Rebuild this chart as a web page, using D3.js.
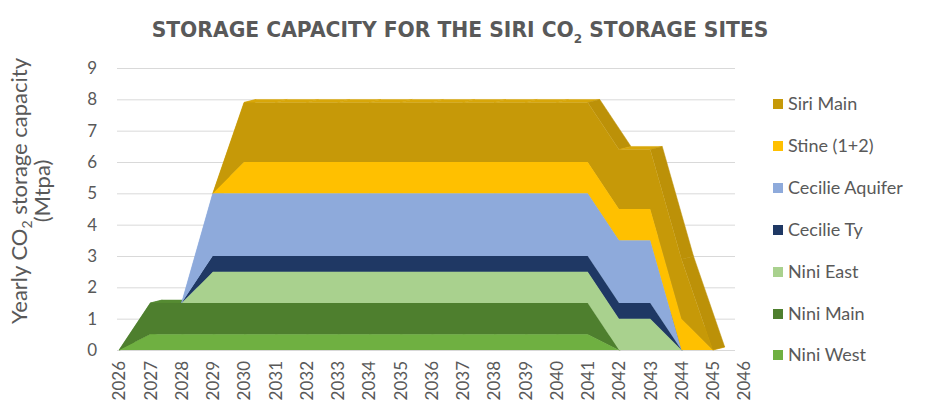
<!DOCTYPE html>
<html>
<head>
<meta charset="utf-8">
<script src="https://cdn.jsdelivr.net/npm/d3@7"></script>
<style>
body { margin: 0; background: #fff; }
text { font-family: Lato, "Open Sans", sans-serif; fill: #595959; }
.grid line { stroke: #d9d9d9; stroke-width: 1; }
</style>
</head>
<body>
<div id="chart"></div>
<script>
var years = [2026, 2027, 2028, 2029, 2030, 2031, 2032, 2033, 2034, 2035, 2036,
             2037, 2038, 2039, 2040, 2041, 2042, 2043, 2044, 2045, 2046];

// Mtpa per site, one value per year (bottom of the stack first)
var niniWest       = [0, 0.5, 0.5, 0.5, 0.5, 0.5, 0.5, 0.5, 0.5, 0.5, 0.5, 0.5, 0.5, 0.5, 0.5, 0.5, 0, 0, 0, 0, 0];
var niniMain       = [0, 1, 1, 1, 1, 1, 1, 1, 1, 1, 1, 1, 1, 1, 1, 1, 0, 0, 0, 0, 0];
var niniEast       = [0, 0, 0, 1, 1, 1, 1, 1, 1, 1, 1, 1, 1, 1, 1, 1, 1, 1, 0, 0, 0];
var cecilieTy      = [0, 0, 0, 0.5, 0.5, 0.5, 0.5, 0.5, 0.5, 0.5, 0.5, 0.5, 0.5, 0.5, 0.5, 0.5, 0.5, 0.5, 0, 0, 0];
var cecilieAquifer = [0, 0, 0, 2, 2, 2, 2, 2, 2, 2, 2, 2, 2, 2, 2, 2, 2, 2, 0, 0, 0];
var stine          = [0, 0, 0, 0, 1, 1, 1, 1, 1, 1, 1, 1, 1, 1, 1, 1, 1, 1, 1, 0, 0];
var siriMain       = [0, 0, 0, 0, 1.9, 1.9, 1.9, 1.9, 1.9, 1.9, 1.9, 1.9, 1.9, 1.9, 1.9, 1.9, 1.9, 1.9, 1.9, 0, 0];

var seriesNames  = ["Nini West", "Nini Main", "Nini East", "Cecilie Ty", "Cecilie Aquifer", "Stine (1+2)", "Siri Main"];
var seriesValues = [niniWest, niniMain, niniEast, cecilieTy, cecilieAquifer, stine, siriMain];
var seriesColors = ["#6fb041", "#4e7f2e", "#a9d18e", "#1f3864", "#8eaadb", "#ffc000", "#c69908"];
var yTicks = [0, 1, 2, 3, 4, 5, 6, 7, 8, 9];

var width = 930, height = 414;
var depthX = 12, depthY = 3;

var svg = d3.select('#chart')
            .append('svg')
            .attr('width', width)
            .attr('height', height);

var x = d3.scalePoint().domain(years).range([119, 744]);
var y = d3.scaleLinear().domain([0, 9]).range([350, 68]);

// table for d3.stack
var rows = years.map(function(yr, i) {
  var r = { year: yr };
  seriesNames.forEach(function(name, k) { r[name] = seriesValues[k][i]; });
  return r;
});
var stacked = d3.stack().keys(seriesNames)(rows);

// gridlines + y labels
var yAxis = d3.axisLeft(y)
  .tickValues(yTicks)
  .tickSize(-(735 - 117))
  .tickPadding(20)
  .tickFormat(d3.format('d'));

svg.append('g')
    .attr('class', 'grid')
    .attr('transform', 'translate(117,0)')
    .call(yAxis)
  .call(function(g) { g.select('.domain').remove(); })
  .selectAll('text')
    .style('font-size', '17px')
    .style('fill', '#595959');

// 3D top faces, one quad per segment (only where the series has some thickness)
var plot = svg.append('g');
stacked.forEach(function(s, k) {
  var c = d3.color(seriesColors[k]);
  for (var j = 0; j < s.length - 1; j++) {
    var thick0 = s[j][1] - s[j][0], thick1 = s[j + 1][1] - s[j + 1][0];
    if (thick0 <= 0 && thick1 <= 0) continue;
    var x0 = x(years[j]), x1 = x(years[j + 1]);
    var y0 = y(s[j][1]), y1 = y(s[j + 1][1]);
    var flat = Math.abs(y0 - y1) < 0.5;
    var shade = flat ? c.brighter(0.25) : (y1 > y0 ? c.darker(0.15) : c.brighter(0.1));
    plot.append('path')
      .attr('d', 'M' + x0 + ',' + y0 + 'L' + x1 + ',' + y1 +
                 'L' + (x1 + depthX) + ',' + (y1 - depthY) +
                 'L' + (x0 + depthX) + ',' + (y0 - depthY) + 'Z')
      .attr('fill', shade.formatHex())
      .attr('stroke', shade.formatHex())
      .attr('stroke-width', 0.5);
  }
});

// front faces
var area = d3.area()
  .x(function(d) { return x(d.data.year); })
  .y0(function(d) { return y(d[0]); })
  .y1(function(d) { return y(d[1]); });

plot.selectAll('.front')
  .data(stacked)
  .enter().append('path')
    .attr('class', 'front')
    .attr('d', area)
    .attr('fill', function(d, k) { return seriesColors[k]; });

// x labels
var xAxis = d3.axisBottom(x).tickSize(0).tickPadding(0);
var gx = svg.append('g')
    .attr('transform', 'translate(0,361)')
    .call(xAxis);
gx.select('.domain').remove();
gx.selectAll('text')
    .attr('transform', 'rotate(-90)')
    .attr('text-anchor', 'end')
    .attr('x', 0)
    .attr('y', 0)
    .attr('dy', '0.35em')
    .style('font-size', '17px')
    .style('fill', '#595959');

// title, sized to the reference width
var title = svg.append('text')
    .attr('x', 460)
    .attr('y', 37)
    .attr('text-anchor', 'middle')
    .style('font-family', '"DejaVu Sans", sans-serif')
    .style('font-size', '19px')
    .style('font-weight', 'bold');
title.append('tspan').text('STORAGE CAPACITY FOR THE SIRI CO');
title.append('tspan').attr('dy', 6).style('font-size', '12px').text('2');
title.append('tspan').attr('dy', -6).text(' STORAGE SITES');
var tw = title.node().getComputedTextLength();
title.style('font-size', (19 * 618 / tw) + 'px');

// y axis title
var yt = svg.append('text')
    .attr('transform', 'translate(27,191) rotate(-90)')
    .attr('text-anchor', 'middle')
    .style('font-size', '22px');
yt.append('tspan').text('Yearly CO');
yt.append('tspan').attr('dy', 5).style('font-size', '14px').text('2');
yt.append('tspan').attr('dy', -5).text(' storage capacity');
svg.append('text')
    .attr('transform', 'translate(50,191) rotate(-90)')
    .attr('text-anchor', 'middle')
    .style('font-size', '22px')
    .text('(Mtpa)');

// legend, top series first
var legendY = [104, 146, 188, 230, 272, 314, 355];
var legend = svg.append('g').attr('class', 'legend');
var order = d3.range(seriesNames.length).reverse();
order.forEach(function(k, i) {
  var g = legend.append('g').attr('transform', 'translate(773,' + legendY[i] + ')');
  g.append('rect')
    .attr('x', 0).attr('y', -5)
    .attr('width', 10).attr('height', 10)
    .attr('fill', seriesColors[k]);
  g.append('text')
    .attr('x', 15).attr('y', 6)
    .style('font-size', '18px')
    .text(seriesNames[k]);
});
</script>
</body>
</html>
